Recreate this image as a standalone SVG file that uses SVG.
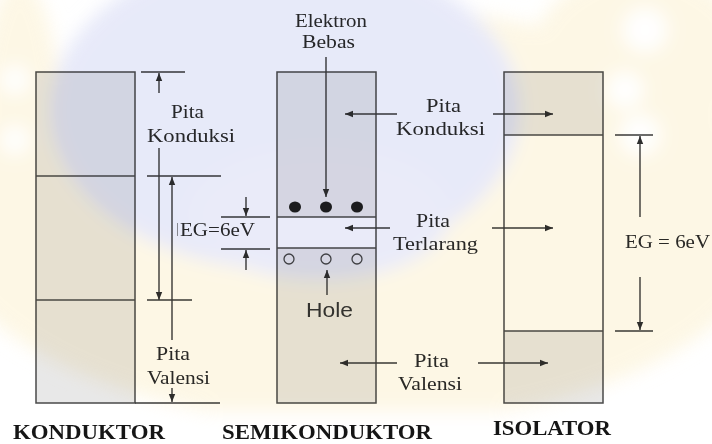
<svg xmlns="http://www.w3.org/2000/svg" width="712" height="444" viewBox="0 0 712 444">
  <defs>
    <style>
      .box { stroke: #4a4a4a; stroke-width: 1.5; }
      .gray { fill: #e8e8e8; }
      .white { fill: #ffffff; }
      .sep { stroke: #4a4a4a; stroke-width: 1.4; fill: none; }
      .ln { stroke: #3a3a3a; stroke-width: 1.4; fill: none; }
      .arr { stroke: #3a3a3a; stroke-width: 1.4; fill: none; marker-end: url(#ah); }
      .lbl { font-family: "Liberation Serif", "Times New Roman", serif; font-size: 19.5px; fill: #2a2a2a; }
      .ttl { font-family: "Liberation Serif", "Times New Roman", serif; font-size: 21.5px; font-weight: bold; fill: #151515; }
      .sans { font-family: "Liberation Sans", Arial, sans-serif; font-size: 20px; fill: #333; }
    </style>
    <marker id="ah" viewBox="0 0 10 10" refX="10" refY="5" markerWidth="8" markerHeight="8" markerUnits="userSpaceOnUse" orient="auto">
      <path d="M0,1 L10,5 L0,9 z" fill="#2e2e2e"/>
    </marker>
    <filter id="soft" x="-20%" y="-20%" width="140%" height="140%">
      <feGaussianBlur stdDeviation="9"/>
    </filter>
  </defs>

  <rect x="0" y="0" width="712" height="444" fill="#ffffff"/>

  <g id="konduktor">
    <rect class="box gray" x="36" y="72" width="99" height="331"/>
    <line class="sep" x1="36" y1="176" x2="135" y2="176"/>
    <line class="sep" x1="36" y1="300" x2="135" y2="300"/>
    <text class="lbl" x="171" y="118" textLength="33" lengthAdjust="spacingAndGlyphs">Pita</text>
    <text class="lbl" x="147" y="142" textLength="88" lengthAdjust="spacingAndGlyphs">Konduksi</text>
    <text class="lbl" x="180" y="236" textLength="75" lengthAdjust="spacingAndGlyphs">EG=6eV</text>
    <text class="lbl" x="156" y="360" textLength="34" lengthAdjust="spacingAndGlyphs">Pita</text>
    <text class="lbl" x="147" y="384" textLength="63" lengthAdjust="spacingAndGlyphs">Valensi</text>
    <text class="ttl" x="13" y="439" textLength="152" lengthAdjust="spacingAndGlyphs">KONDUKTOR</text>
  </g>

  <g id="semikonduktor">
    <rect class="gray" x="277" y="72" width="99" height="145"/>
    <rect class="white" x="277" y="217" width="99" height="31"/>
    <rect class="gray" x="277" y="248" width="99" height="155"/>
    <rect class="box" fill="none" x="277" y="72" width="99" height="331"/>
    <line class="sep" x1="277" y1="217" x2="376" y2="217"/>
    <line class="sep" x1="277" y1="248" x2="376" y2="248"/>
    <ellipse cx="295" cy="207" rx="6" ry="5.5" fill="#1e1e1e"/>
    <ellipse cx="326" cy="207" rx="6" ry="5.5" fill="#1e1e1e"/>
    <ellipse cx="357" cy="207" rx="6" ry="5.5" fill="#1e1e1e"/>
    <circle cx="289" cy="259" r="5" fill="none" stroke="#444" stroke-width="1.3"/>
    <circle cx="326" cy="259" r="5" fill="none" stroke="#444" stroke-width="1.3"/>
    <circle cx="357" cy="259" r="5" fill="none" stroke="#444" stroke-width="1.3"/>
    <text class="lbl" x="295" y="27" textLength="72" lengthAdjust="spacingAndGlyphs">Elektron</text>
    <text class="lbl" x="302" y="48" textLength="53" lengthAdjust="spacingAndGlyphs">Bebas</text>
    <text class="lbl" x="426" y="112" textLength="35" lengthAdjust="spacingAndGlyphs">Pita</text>
    <text class="lbl" x="396" y="135" textLength="89" lengthAdjust="spacingAndGlyphs">Konduksi</text>
    <text class="lbl" x="416" y="227" textLength="34" lengthAdjust="spacingAndGlyphs">Pita</text>
    <text class="lbl" x="393" y="250" textLength="85" lengthAdjust="spacingAndGlyphs">Terlarang</text>
    <text class="lbl" x="414" y="367" textLength="35" lengthAdjust="spacingAndGlyphs">Pita</text>
    <text class="lbl" x="398" y="390" textLength="64" lengthAdjust="spacingAndGlyphs">Valensi</text>
    <text class="sans" x="306" y="317" textLength="47" lengthAdjust="spacingAndGlyphs">Hole</text>
    <text class="ttl" x="222" y="439" textLength="210" lengthAdjust="spacingAndGlyphs">SEMIKONDUKTOR</text>
  </g>

  <g id="isolator">
    <rect class="gray" x="504" y="72" width="99" height="63"/>
    <rect class="white" x="504" y="135" width="99" height="196"/>
    <rect class="gray" x="504" y="331" width="99" height="72"/>
    <rect class="box" fill="none" x="504" y="72" width="99" height="331"/>
    <line class="sep" x1="504" y1="135" x2="603" y2="135"/>
    <line class="sep" x1="504" y1="331" x2="603" y2="331"/>
    <text class="lbl" x="625" y="248" textLength="85" lengthAdjust="spacingAndGlyphs">EG = 6eV</text>
    <text class="ttl" x="493" y="435" textLength="118" lengthAdjust="spacingAndGlyphs">ISOLATOR</text>
  </g>

  <g id="connectors">
    <!-- konduktor -->
    <line class="ln" x1="141" y1="72" x2="185" y2="72"/>
    <line class="arr" x1="159" y1="93" x2="159" y2="73"/>
    <line class="arr" x1="159" y1="148" x2="159" y2="300"/>
    <line class="ln" x1="147" y1="176" x2="221" y2="176"/>
    <line class="arr" x1="172" y1="340" x2="172" y2="177"/>
    <line class="ln" x1="147" y1="300" x2="192" y2="300"/>
    <line class="arr" x1="172" y1="388" x2="172" y2="402"/>
    <line class="ln" x1="135" y1="403" x2="220" y2="403"/>
    <line x1="177.5" y1="223" x2="177.5" y2="236" stroke="#777" stroke-width="0.8"/>
    <!-- semikonduktor -->
    <line class="arr" x1="326" y1="57" x2="326" y2="197"/>
    <line class="arr" x1="397" y1="114" x2="345" y2="114"/>
    <line class="arr" x1="390" y1="228" x2="345" y2="228"/>
    <line class="arr" x1="397" y1="363" x2="340" y2="363"/>
    <line class="arr" x1="327" y1="295" x2="327" y2="270"/>
    <line class="arr" x1="246" y1="197" x2="246" y2="216"/>
    <line class="ln" x1="221" y1="217" x2="270" y2="217"/>
    <line class="ln" x1="221" y1="249" x2="270" y2="249"/>
    <line class="arr" x1="246" y1="270" x2="246" y2="250"/>
    <!-- isolator -->
    <line class="arr" x1="493" y1="114" x2="553" y2="114"/>
    <line class="arr" x1="492" y1="228" x2="553" y2="228"/>
    <line class="arr" x1="478" y1="363" x2="548" y2="363"/>
    <line class="ln" x1="615" y1="135" x2="653" y2="135"/>
    <line class="ln" x1="615" y1="331" x2="653" y2="331"/>
    <line class="arr" x1="640" y1="217" x2="640" y2="136"/>
    <line class="arr" x1="640" y1="277" x2="640" y2="330"/>
  </g>

  <g id="watermark" style="mix-blend-mode:multiply" opacity="0.55">
    <g filter="url(#soft)">
      <ellipse cx="356" cy="215" rx="420" ry="210" fill="#fcf1d0"/>
      <ellipse cx="640" cy="60" rx="110" ry="90" fill="#fcf1d0"/>
      <ellipse cx="20" cy="120" rx="40" ry="140" fill="#fcf1d0"/>
      <ellipse cx="285" cy="110" rx="235" ry="160" fill="#d4d8f4"/>
      <ellipse cx="320" cy="215" rx="130" ry="65" fill="#d8dbf5"/>
      <circle cx="645" cy="30" r="22" fill="#ffffff"/>
      <circle cx="625" cy="90" r="18" fill="#ffffff"/>
      <circle cx="640" cy="135" r="20" fill="#ffffff"/>
      <circle cx="15" cy="80" r="14" fill="#ffffff"/>
      <circle cx="15" cy="140" r="14" fill="#ffffff"/>
      <rect x="0" y="412" width="712" height="40" fill="#ffffff"/>
    </g>
  </g>
</svg>
